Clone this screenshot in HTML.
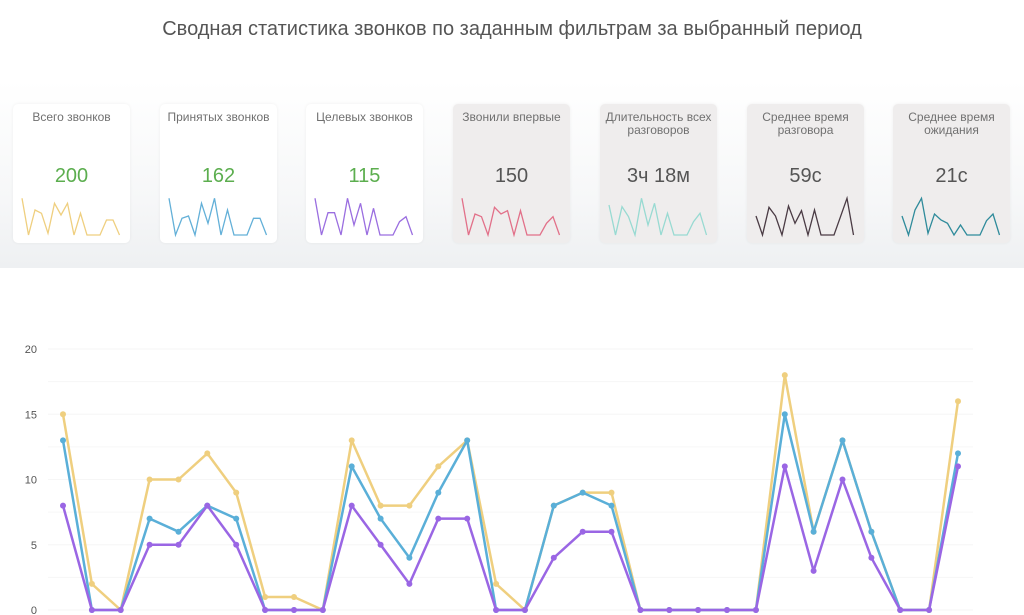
<!DOCTYPE html>
<html><head><meta charset="utf-8">
<style>
html,body{margin:0;padding:0;width:1024px;height:615px;overflow:hidden;background:#fff;font-family:"Liberation Sans","DejaVu Sans",sans-serif;}
.hdr{position:absolute;left:0;top:0;width:1024px;height:268px;background:linear-gradient(#fff 0%,#fff 30%,#f6f7f8 75%,#eef0f2 100%);}
.title{position:absolute;left:0;top:18px;width:1024px;text-align:center;font-size:20px;color:#555;}
.card{position:absolute;top:104px;width:117px;height:139px;border-radius:5px;background:#fff;box-shadow:0 0 3px rgba(0,0,0,0.06);}
.card.g{background:#efeded;}
.card .t{position:absolute;top:7px;left:0;width:100%;text-align:center;font-size:12px;line-height:13px;color:#707070;}
.card .v{position:absolute;top:61px;left:0;width:100%;text-align:center;font-size:20px;color:#555;}
.card .v.gr{color:#5cae4f;}
svg{position:absolute;left:0;top:0;}
</style></head><body>
<div class="hdr"></div>
<div class="title">Сводная статистика звонков по заданным фильтрам за выбранный период</div>
<div class="card" style="left:13px"><div class="t">Всего звонков</div><div class="v gr">200</div></div>
<div class="card" style="left:160px"><div class="t">Принятых звонков</div><div class="v gr">162</div></div>
<div class="card" style="left:306px"><div class="t">Целевых звонков</div><div class="v gr">115</div></div>
<div class="card g" style="left:453px"><div class="t">Звонили впервые</div><div class="v">150</div></div>
<div class="card g" style="left:600px"><div class="t">Длительность всех<br>разговоров</div><div class="v">3ч 18м</div></div>
<div class="card g" style="left:747px"><div class="t">Среднее время<br>разговора</div><div class="v">59с</div></div>
<div class="card g" style="left:893px"><div class="t">Среднее время<br>ожидания</div><div class="v">21с</div></div>
<svg id="s" width="1024" height="615"></svg>
<script>
var s=document.getElementById('s'),h='';
var sp=[
[13,'#efcf7f',[325,435,360,370,430,340,375,340,435,370,435,435,435,390,390,435]],
[160,'#63b0d8',[325,435,385,378,435,340,400,325,435,360,435,435,435,385,385,435]],
[306,'#9a6ee0',[325,435,368,368,435,325,405,340,435,355,435,435,435,395,380,435]],
[453,'#e27089',[325,435,372,380,435,352,372,362,435,362,435,435,435,400,380,435]],
[600,'#98dad2',[345,435,350,380,435,325,405,340,435,370,435,435,435,395,370,435]],
[747,'#4a3b44',[378,435,352,378,435,348,400,362,435,360,435,435,435,380,325,435]],
[893,'#2f8b9b',[378,435,360,325,430,372,390,400,435,405,435,435,435,392,372,435]]];
sp.forEach(function(c){var p=c[2].map(function(y,i){return (c[0]+9+i*6.5).toFixed(1)+','+(y/3+90).toFixed(1)}).join(' ');
h+='<polyline points="'+p+'" fill="none" stroke="'+c[1]+'" stroke-width="1.3"/>';});
for(var k=0;k<=8;k++){var y=610-k*2.5*13.05;h+='<line x1="48" x2="973" y1="'+y+'" y2="'+y+'" stroke="#f6f6f6" stroke-width="1"/>';}
[0,5,10,15,20].forEach(function(v){h+='<text x="37" y="'+(614-v*13.05)+'" text-anchor="end" font-size="11" fill="#555" font-family="Liberation Sans, sans-serif">'+v+'</text>';});
var Y=[15,2,0,10,10,12,9,1,1,0,13,8,8,11,13,2,0,8,9,9,0,0,0,0,0,18,6,13,6,0,0,16];
var B=[13,0,0,7,6,8,7,0,0,0,11,7,4,9,13,0,0,8,9,8,0,0,0,0,0,15,6,13,6,0,0,12];
var P=[8,0,0,5,5,8,5,0,0,0,8,5,2,7,7,0,0,4,6,6,0,0,0,0,0,11,3,10,4,0,0,11];
[[Y,'#efcf7f'],[B,'#5aafd8'],[P,'#9a66e4']].forEach(function(d){
var pts=d[0].map(function(v,i){return [63+i*28.87,610-v*13.05]});
h+='<polyline points="'+pts.map(function(p){return p[0].toFixed(1)+','+p[1].toFixed(1)}).join(' ')+'" fill="none" stroke="'+d[1]+'" stroke-width="2.5" stroke-linejoin="round"/>';
pts.forEach(function(p){h+='<circle cx="'+p[0].toFixed(1)+'" cy="'+p[1].toFixed(1)+'" r="3" fill="'+d[1]+'"/>';});
});
s.innerHTML=h;
</script>
</body></html>
